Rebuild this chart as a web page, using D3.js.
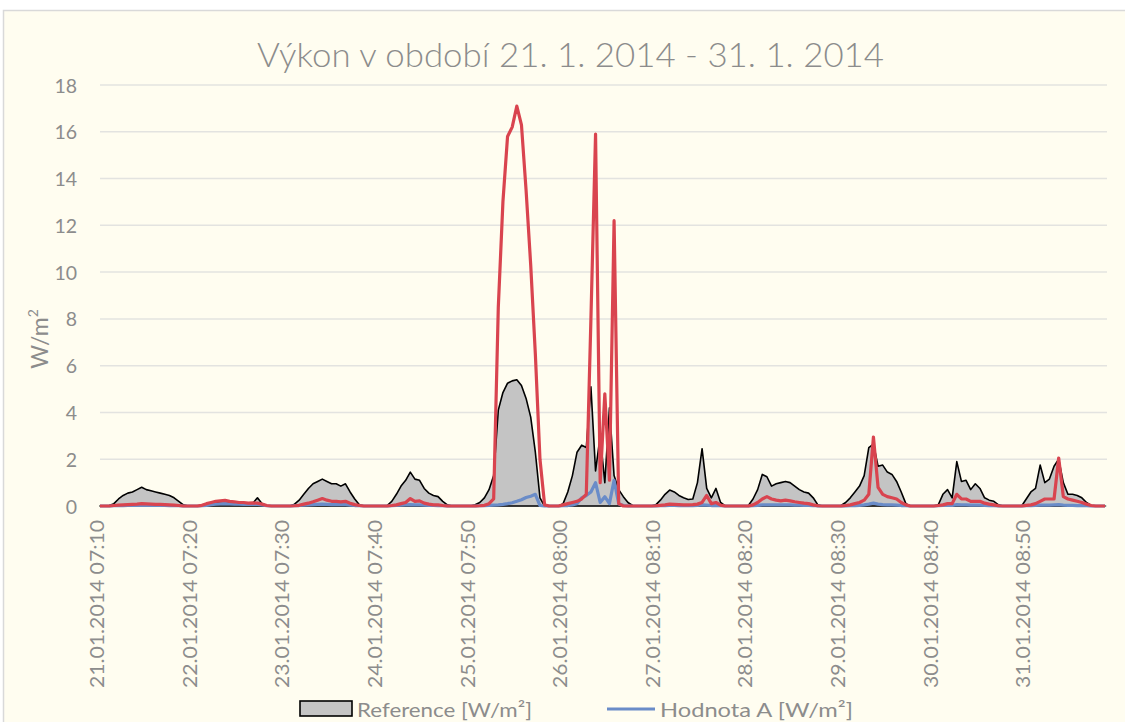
<!DOCTYPE html>
<html><head><meta charset="utf-8">
<script src="https://cdn.jsdelivr.net/npm/d3@7"></script>
<style>body{margin:0;background:#fff}svg{display:block}text{font-family:Lato,"Liberation Sans",sans-serif}</style>
</head><body><svg id="c" width="1125" height="722"></svg>
<script>
const title = "Výkon v období 21. 1. 2014 - 31. 1. 2014";
const yTicks = [0, 2, 4, 6, 8, 10, 12, 14, 16, 18];
const tickLabels = ["21.01.2014 07:10","22.01.2014 07:20","23.01.2014 07:30","24.01.2014 07:40","25.01.2014 07:50","26.01.2014 08:00","27.01.2014 08:10","28.01.2014 08:20","29.01.2014 08:30","30.01.2014 08:40","31.01.2014 08:50"];
const tickEvery = 20;
const seriesNames = ["Reference [W/m²]", "Hodnota A [W/m²]"];
const reference = [
0,0,0.02,0.1,0.3,0.45,0.55,0.6,0.7,0.8,0.7,0.65,0.6,0.55,0.5,0.45,0.35,0.2,0.05,0,
0,0,0.03,0.08,0.12,0.15,0.18,0.2,0.15,0.12,0.1,0.08,0.07,0.12,0.35,0.1,0.02,0,0,0,
0,0,0.08,0.25,0.5,0.75,0.95,1.05,1.15,1.05,0.95,0.95,0.85,0.95,0.6,0.3,0.05,0,0,0,
0,0,0.02,0.2,0.5,0.85,1.1,1.45,1.15,1.1,0.75,0.55,0.45,0.4,0.2,0.05,0,0,0,0,
0,0.05,0.15,0.35,0.7,1.3,4.1,4.85,5.25,5.35,5.4,5.15,4.6,3.8,2.3,0.35,0,0,0,0,
0.1,0.6,1.3,2.3,2.6,2.5,5.1,1.5,3.0,1.0,4.2,1.3,0.7,0.4,0.15,0.02,0,0,0,0,
0.05,0.25,0.5,0.68,0.6,0.45,0.35,0.28,0.3,1.0,2.45,0.75,0.35,0.75,0.15,0,0,0,0,0,
0.02,0.3,0.7,1.35,1.25,0.85,0.95,1.0,1.05,1.0,0.85,0.7,0.6,0.55,0.35,0.05,0,0,0,0,
0.02,0.15,0.35,0.6,0.85,1.3,2.5,2.65,1.7,1.75,1.45,1.35,1.05,0.6,0.1,0,0,0,0,0,
0,0.05,0.5,0.7,0.35,1.9,1.05,1.1,0.7,0.95,0.75,0.35,0.25,0.2,0.05,0,0,0,0,0,
0.3,0.6,0.75,1.75,1.0,1.15,1.7,2.0,1.0,0.5,0.5,0.45,0.35,0.15,0.02,0,0,0];
const hodnotaA = [
0,0,0,0.01,0.02,0.02,0.03,0.03,0.03,0.03,0.03,0.03,0.03,0.03,0.03,0.02,0.02,0.01,0,0,
0,0,0.01,0.03,0.06,0.08,0.09,0.1,0.09,0.08,0.08,0.07,0.07,0.07,0.07,0.05,0.01,0,0,0,
0,0,0.01,0.02,0.04,0.05,0.06,0.07,0.08,0.07,0.06,0.06,0.06,0.06,0.04,0.02,0.01,0,0,0,
0,0,0,0.01,0.03,0.04,0.05,0.06,0.05,0.05,0.04,0.03,0.03,0.02,0.01,0,0,0,0,0,
0,0,0.01,0.02,0.03,0.04,0.05,0.07,0.1,0.14,0.2,0.27,0.36,0.42,0.5,0.02,0,0,0,0,
0.01,0.02,0.05,0.1,0.35,0.45,0.6,1.0,0.15,0.4,0.1,1.1,0.1,0.02,0,0,0,0,0,0,
0,0.01,0.02,0.03,0.03,0.02,0.02,0.02,0.02,0.03,0.05,0.04,0.02,0.03,0.01,0,0,0,0,0,
0,0.01,0.03,0.05,0.05,0.05,0.05,0.05,0.05,0.05,0.04,0.04,0.03,0.03,0.02,0,0,0,0,0,
0,0,0.01,0.02,0.03,0.05,0.08,0.12,0.08,0.06,0.05,0.05,0.04,0.02,0.01,0,0,0,0,0,
0,0.01,0.03,0.03,0.03,0.06,0.05,0.05,0.04,0.04,0.04,0.03,0.02,0.01,0,0,0,0,0,0,
0.01,0.02,0.03,0.04,0.04,0.04,0.05,0.06,0.04,0.03,0.03,0.02,0.02,0.01,0,0,0,0];
const hodnotaB = [
0,0,0,0.02,0.04,0.05,0.06,0.07,0.08,0.1,0.09,0.08,0.07,0.07,0.06,0.05,0.04,0.02,0,0,
0,0,0.03,0.1,0.15,0.2,0.22,0.24,0.2,0.18,0.15,0.15,0.12,0.13,0.12,0.08,0.02,0,0,0,
0,0,0.01,0.03,0.08,0.12,0.18,0.25,0.32,0.25,0.2,0.2,0.18,0.2,0.12,0.06,0.02,0,0,0,
0,0,0,0.02,0.05,0.1,0.15,0.32,0.2,0.22,0.12,0.08,0.05,0.05,0.02,0,0,0,0,0,
0,0,0.01,0.03,0.1,0.3,8.5,13,15.8,16.2,17.1,16.3,13.5,10.3,6.5,2.0,0.05,0,0,0,
0.05,0.1,0.15,0.2,0.3,0.5,8.0,15.9,1.0,4.8,1.1,12.2,0.1,0,0,0,0,0,0,0,
0.01,0.03,0.05,0.08,0.07,0.06,0.05,0.05,0.06,0.08,0.15,0.45,0.1,0.15,0.04,0,0,0,0,0,
0,0.05,0.15,0.3,0.4,0.3,0.25,0.22,0.25,0.22,0.18,0.15,0.12,0.1,0.05,0.01,0,0,0,0,
0,0.02,0.05,0.1,0.15,0.25,0.5,2.95,0.8,0.5,0.4,0.35,0.3,0.15,0.05,0,0,0,0,0,
0,0.02,0.05,0.1,0.1,0.5,0.3,0.3,0.2,0.2,0.2,0.12,0.08,0.05,0.01,0,0,0,0,0,
0.03,0.05,0.1,0.2,0.3,0.3,0.3,2.05,0.4,0.3,0.25,0.2,0.15,0.08,0.02,0,0,0];

const svg = d3.select("#c");
const W = 1125, H = 722;
const textCol = "#8c8c8c";
svg.append("rect").attr("x", 3.5).attr("y", 10.5).attr("width", W + 10).attr("height", H + 10)
  .attr("fill", "#fffdf0").attr("stroke", "#d9d9d9").attr("stroke-width", 1.5);

const N = reference.length;
const x = d3.scaleLinear().domain([0, N - 1]).range([100, 1105]);
const y = d3.scaleLinear().domain([0, 18]).range([506, 85]);

// grid
svg.append("g").selectAll("line").data(yTicks.filter(d => d > 0)).join("line")
  .attr("x1", 100).attr("x2", 1107).attr("y1", d => y(d)).attr("y2", d => y(d))
  .attr("stroke", "#e3e3e0").attr("stroke-width", 1.5);

// y axis labels
const yAxis = d3.axisLeft(y).tickValues(yTicks).tickSize(0).tickPadding(0);
const gy = svg.append("g").attr("transform", "translate(77,0)").call(yAxis);
gy.select(".domain").remove();
gy.selectAll("text").attr("fill", textCol).attr("font-size", 19.5).attr("dy", "0.36em")
  .style("font-family", "Lato, 'Liberation Sans', sans-serif");

// x axis labels
const xTicks = tickLabels.map((d, i) => i * tickEvery);
const xAxis = d3.axisBottom(x).tickValues(xTicks).tickFormat((d, i) => tickLabels[i]).tickSize(0);
const gx = svg.append("g").attr("transform", "translate(0,520)").call(xAxis);
gx.select(".domain").remove();
gx.selectAll("text").attr("fill", textCol).attr("font-size", 19.5)
  .attr("transform", "rotate(-90)").attr("text-anchor", "end")
  .attr("x", 0).attr("y", 0).attr("dx", 0).attr("dy", "0.36em")
  .attr("textLength", 168).attr("lengthAdjust", "spacingAndGlyphs")
  .style("font-family", "Lato, 'Liberation Sans', sans-serif");
gx.selectAll(".tick").attr("transform", d => `translate(${x(d) - 3},0)`);

// baseline
svg.append("line").attr("x1", 100).attr("x2", 1107).attr("y1", y(0)).attr("y2", y(0))
  .attr("stroke", "#d9d9d9").attr("stroke-width", 1.5);

// reference area
const area = d3.area().x((d, i) => x(i)).y0(y(0)).y1(d => y(d));
svg.append("path").datum(reference).attr("d", area)
  .attr("fill", "#c4c4c4").attr("stroke", "#000").attr("stroke-width", 1.6).attr("stroke-linejoin", "round");

const line = d3.line().x((d, i) => x(i)).y(d => y(d));
svg.append("path").datum(hodnotaA).attr("d", line)
  .attr("fill", "none").attr("stroke", "#6a8cc8").attr("stroke-width", 3.2).attr("stroke-linejoin", "round");
svg.append("path").datum(hodnotaB).attr("d", line)
  .attr("fill", "none").attr("stroke", "#d9444f").attr("stroke-width", 3.2).attr("stroke-linejoin", "round");

// title
svg.append("text").attr("x", 257).attr("y", 67).text(title)
  .attr("fill", "#8c8c8c").attr("font-size", 33).attr("font-weight", 300)
  .attr("textLength", 627).attr("lengthAdjust", "spacingAndGlyphs");

// y title
const yt = svg.append("text").attr("transform", "translate(48,339) rotate(-90)")
  .attr("text-anchor", "middle").attr("fill", textCol).attr("font-size", 23);
yt.append("tspan").text("W/m");
yt.append("tspan").text("2").attr("font-size", 14).attr("dy", "-0.7em");

// legend
svg.append("rect").attr("x", 300).attr("y", 701).attr("width", 52).attr("height", 15)
  .attr("fill", "#c4c4c4").attr("stroke", "#000").attr("stroke-width", 1.6);
svg.append("text").attr("x", 357).attr("y", 717).text(seriesNames[0])
  .attr("fill", textCol).attr("font-size", 20).attr("textLength", 175).attr("lengthAdjust", "spacingAndGlyphs");
svg.append("line").attr("x1", 607).attr("x2", 655).attr("y1", 709).attr("y2", 709)
  .attr("stroke", "#6a8cc8").attr("stroke-width", 3);
svg.append("text").attr("x", 660).attr("y", 717).text(seriesNames[1])
  .attr("fill", textCol).attr("font-size", 20).attr("textLength", 193).attr("lengthAdjust", "spacingAndGlyphs");
</script></body></html>
